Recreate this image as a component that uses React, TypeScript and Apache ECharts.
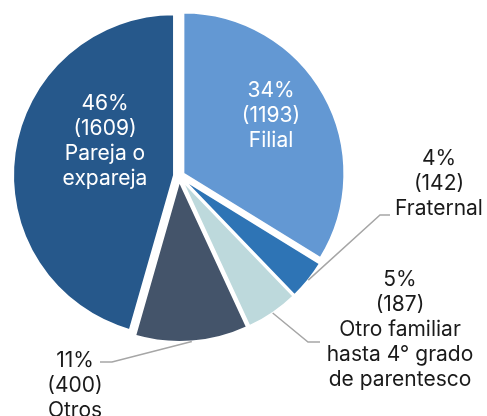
import React, { useEffect, useRef } from "react";
import * as echarts from "echarts";

const categories = ["Filial", "Fraternal", "Otro familiar hasta 4° grado de parentesco", "Otros", "Pareja o expareja"];
const displayNames = ["Filial", "Fraternal", "Otro familiar\nhasta 4° grado\nde parentesco", "Otros", "Pareja o\nexpareja"];
const counts = [1193, 142, 187, 400, 1609];
const colors = ["#6398D3", "#2E74B5", "#BDD9DC", "#44546A", "#26588B"];
const insideLabel = [true, false, false, false, true];

// label anchor positions (layout only)
const labelPos: [number, number][] = [[271, 114], [439, 182], [400, 328], [75, 384], [105, 140]];
const elbows: ([number, number][] | null)[] = [
  null,
  [[380, 215], [390, 215]],
  [[308, 342], [320, 342]],
  [[112, 362], [100, 362]],
  null,
];

export default function App() {
  const ref = useRef<HTMLDivElement>(null);
  useEffect(() => {
    if (!ref.current) return;
    const chart = echarts.init(ref.current, null, { renderer: "svg" });
    chart.setOption({
      animation: false,
      series: [
        {
          type: "pie",
          center: [179, 176],
          radius: 161,
          startAngle: 90,
          clockwise: true,
          selectedMode: "multiple",
          selectedOffset: 5,
          avoidLabelOverlap: false,
          silent: true,
          itemStyle: { borderColor: "#ffffff", borderWidth: 2 },
          select: { itemStyle: { borderColor: "#ffffff", borderWidth: 2 } },
          emphasis: { disabled: true },
          label: { show: false },
          labelLine: { show: false },
          data: categories.map((name, i) => ({
            name,
            value: counts[i],
            selected: true,
            itemStyle: { color: colors[i] },
          })),
        },
        {
          type: "pie",
          center: [179, 176],
          radius: 166,
          startAngle: 90,
          clockwise: true,
          silent: true,
          avoidLabelOverlap: false,
          z: 3,
          itemStyle: { color: "rgba(0,0,0,0)", borderWidth: 0 },
          emphasis: { disabled: true },
          label: {
            fontFamily: "Inter",
            fontSize: 21,
            lineHeight: 25,
            align: "center",
            formatter: (p: any) => `${Math.round(p.percent)}%\n(${p.value})\n${displayNames[p.dataIndex]}`,
          },
          labelLine: { lineStyle: { color: "#A6A6A6", width: 1.5 }, length: 10, length2: 10 },
          labelLayout: (params: any) => {
            const i = params.dataIndex;
            const out: any = {
              x: labelPos[i][0],
              y: labelPos[i][1],
              align: "center",
              verticalAlign: "middle",
            };
            const el = elbows[i];
            if (el && params.labelLinePoints) {
              out.labelLinePoints = [params.labelLinePoints[0], el[0], el[1]];
            }
            return out;
          },
          data: categories.map((name, i) => ({
            name,
            value: counts[i],
            label: insideLabel[i]
              ? { position: "inside", color: "#ffffff" }
              : { position: "outside", color: "#1a1a1a" },
            labelLine: { show: !insideLabel[i] },
          })),
        },
      ],
    });
    return () => chart.dispose();
  }, []);
  return <div ref={ref} style={{ position: "fixed", left: 0, top: 0, width: 487, height: 416 }} />;
}
